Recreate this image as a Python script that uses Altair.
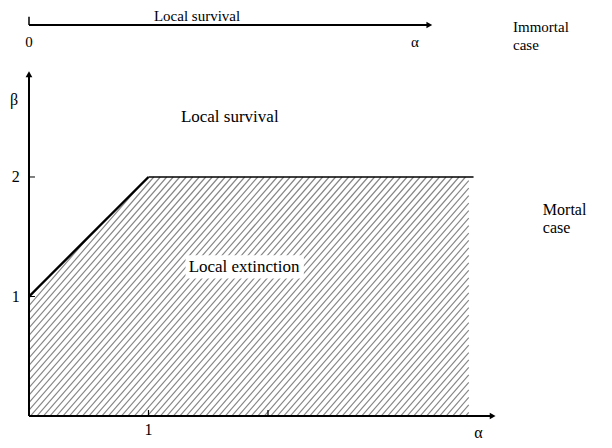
import altair as alt
import numpy as np
import pandas as pd

FONT = "Liberation Serif"

# ---- data ----
boundary_alpha = [0.0, 1.0, 3.72]          # critical curve (beta as a function of alpha)
boundary_beta = [1.0, 2.0, 2.0]
region_alpha = [0.0, 3.68, 3.68, 1.0, 0.0]  # extinction region (hatched), CCW
region_beta = [0.0, 0.0, 2.0, 2.0, 1.0]
beta_ticks = [1, 2]
beta_tick_labels = ["1", "2"]
alpha_ticks = [1, 2]
alpha_tick_labels = ["1", ""]
alpha_axis_end = 3.91
beta_axis_end = 2.89
top_alpha_end = 3.38
top_beta = 3.272

labels = ["Local survival", "0", "α", "Immortal", "case",
          "β", "Local survival", "Local extinction", "Mortal", "case", "α"]
label_alpha = [1.406, 0.0, 3.23, 4.05, 4.05, -0.125, 1.68, 1.80, 4.30, 4.30, 3.76]
label_beta = [3.35, 3.13, 3.13, 3.255, 3.105, 2.645, 2.50, 1.245, 1.725, 1.575, -0.14]
label_align = ["center", "center", "center", "left", "left",
               "center", "center", "center", "left", "left", "center"]
label_size = [15, 15, 15, 15, 15, 16, 17, 17, 16, 16, 16]

# ---- scales ----
xs = alt.Scale(domain=[-0.1757, 4.8117], nice=False, zero=False)
ys = alt.Scale(domain=[-0.2008, 3.4142], nice=False, zero=False)


def X(f):
    return alt.X(f, type="quantitative", scale=xs, axis=None)


def Y(f):
    return alt.Y(f, type="quantitative", scale=ys, axis=None)


# ---- hatch lines clipped to the region ----
s = 1.15
dc = 0.0625
vx = np.array(region_alpha)
vy = np.array(region_beta)
cmin = np.min(vy - s * vx)
cmax = np.max(vy - s * vx)
segs = []
for c in np.arange(cmin + dc / 2, cmax, dc):
    lo, hi = -1e9, 1e9
    ok = True
    n = len(vx)
    for i in range(n):
        ex = vx[(i + 1) % n] - vx[i]
        ey = vy[(i + 1) % n] - vy[i]
        B = ex * s - ey
        A = ex * (c - vy[i]) + ey * vx[i]
        if abs(B) < 1e-12:
            if A < 0:
                ok = False
        elif B > 0:
            lo = max(lo, -A / B)
        else:
            hi = min(hi, -A / B)
    if ok and hi > lo:
        segs.append({"a": lo, "b": s * lo + c, "a2": hi, "b2": s * hi + c})
hatch_df = pd.DataFrame(segs)

hatch = alt.Chart(hatch_df).mark_rule(color="#858585", strokeWidth=1.15).encode(
    x=X("a"), y=Y("b"), x2="a2", y2="b2")

# ---- axes ----
axes_df = pd.DataFrame({
    "a": [0.0, 0.0, 0.0],
    "b": [0.0, 0.0, top_beta],
    "a2": [alpha_axis_end - 0.03, 0.0, top_alpha_end - 0.03],
    "b2": [0.0, beta_axis_end - 0.03, top_beta],
})
axes = alt.Chart(axes_df).mark_rule(color="black", strokeWidth=2).encode(
    x=X("a"), y=Y("b"), x2="a2", y2="b2")

top_tick = alt.Chart(pd.DataFrame({"a": [0.0], "b": [top_beta], "b2": [top_beta + 0.07]})).mark_rule(
    color="black", strokeWidth=1.5).encode(x=X("a"), y=Y("b"), y2="b2")

ytick_df = pd.DataFrame({"b": beta_ticks, "lab": beta_tick_labels})
yticks = alt.Chart(ytick_df).mark_rule(color="black", strokeWidth=1).encode(
    x=X("a:Q"), x2="a2:Q", y=Y("b")).transform_calculate(a="0", a2="0.05")
ylabels = alt.Chart(ytick_df).mark_text(font=FONT, fontSize=16, align="center", baseline="middle").encode(
    x=X("a:Q"), y=Y("b"), text="lab").transform_calculate(a="-0.11")

xtick_df = pd.DataFrame({"a": alpha_ticks, "lab": alpha_tick_labels})
xticks = alt.Chart(xtick_df).mark_rule(color="black", strokeWidth=1.2).encode(
    x=X("a"), y=Y("b:Q"), y2="b2:Q").transform_calculate(b="0", b2="0.05")
xlabels = alt.Chart(xtick_df).mark_text(font=FONT, fontSize=16, align="center", baseline="alphabetic").encode(
    x=X("a"), y=Y("b:Q"), text="lab").transform_calculate(b="-0.163")

# arrow heads (triangle centred slightly behind the tip)
arrow_r = alt.Chart(pd.DataFrame({"a": [alpha_axis_end - 0.03, top_alpha_end - 0.03],
                                  "b": [0.0, top_beta]})).mark_point(
    shape="triangle-right", filled=True, color="black", size=45, opacity=1).encode(x=X("a"), y=Y("b"))
arrow_u = alt.Chart(pd.DataFrame({"a": [0.0], "b": [beta_axis_end - 0.03]})).mark_point(
    shape="triangle-up", filled=True, color="black", size=45, opacity=1).encode(x=X("a"), y=Y("b"))

# boundary
bdf = pd.DataFrame({"a": boundary_alpha, "b": boundary_beta})
diag = alt.Chart(bdf.iloc[:2]).mark_line(color="black", strokeWidth=2.4).encode(x=X("a"), y=Y("b"))
flat = alt.Chart(bdf.iloc[1:]).mark_line(color="black", strokeWidth=1.4).encode(x=X("a"), y=Y("b"))

# white box behind "Local extinction"
box = alt.Chart(pd.DataFrame({"a": [1.31], "a2": [2.30], "b": [1.15], "b2": [1.345]})).mark_rect(
    color="white").encode(x=X("a"), x2="a2", y=Y("b"), y2="b2")

# annotations
ldf = pd.DataFrame({"t": labels, "a": label_alpha, "b": label_beta, "al": label_align, "fs": label_size})
texts = []
for al in ["center", "left"]:
    for fs in sorted(set(label_size)):
        sub = ldf[(ldf.al == al) & (ldf.fs == fs)]
        if len(sub):
            texts.append(alt.Chart(sub).mark_text(
                font=FONT, fontSize=fs, align=al, baseline="middle", color="black").encode(
                x=X("a"), y=Y("b"), text="t"))

chart = alt.layer(hatch, box, axes, top_tick, yticks, ylabels, xticks, xlabels,
                  diag, flat, arrow_r, arrow_u, *texts).properties(
    width=596, height=432, padding=0,
    autosize=alt.AutoSizeParams(type="none")
).configure_view(stroke=None)

chart.save("out.html", embed_options={"renderer": "svg", "actions": False})
